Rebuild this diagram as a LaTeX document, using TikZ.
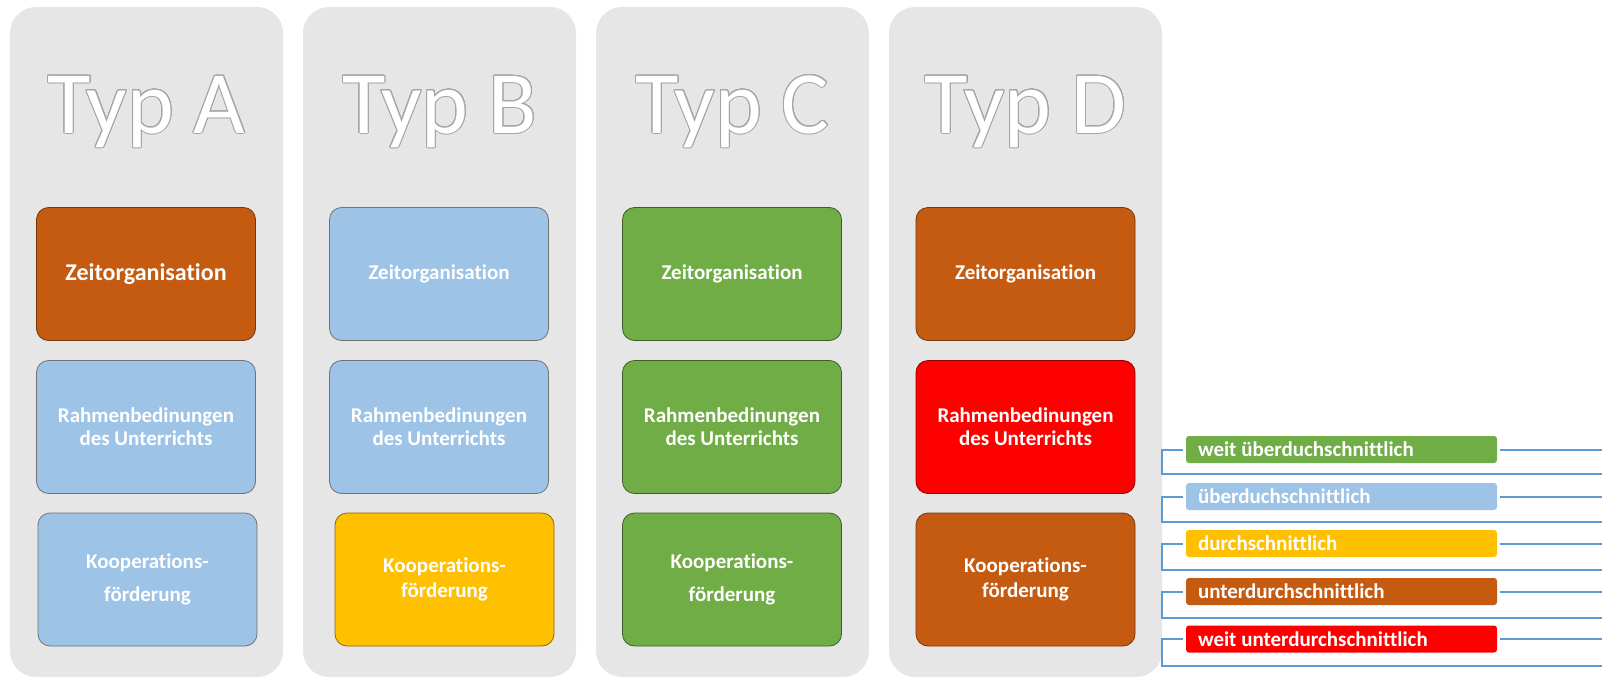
\documentclass[tikz,border=0pt]{standalone}
\usepackage{fontspec}
\setmainfont{Carlito}[Ligatures={NoCommon}]
\usepackage[copies]{contour}
\contourlength{1pt}
\contournumber{24}
\definecolor{panelgray}{HTML}{E6E6E6}
\definecolor{titlegray}{HTML}{A6A6A6}
\definecolor{cOrange}{HTML}{C55A11}
\definecolor{cBlue}{HTML}{9DC3E6}
\definecolor{cGreen}{HTML}{70AD47}
\definecolor{cYellow}{HTML}{FFC000}
\definecolor{cRed}{HTML}{FF0000}
\definecolor{lineblue}{HTML}{5B9BD5}
\tikzset{
  panel/.style={fill=panelgray, rounded corners=26pt, minimum width=273pt, minimum height=670pt, inner sep=0pt},
  title/.style={anchor=base, text=white, font=\fontsize{89}{100}\selectfont, inner sep=0pt},
  box/.style={rounded corners=12pt, minimum width=219pt, minimum height=133pt, text=white, align=center,
     font=\bfseries\fontsize{21}{23}\selectfont, line width=0.8pt, inner sep=0pt},
  kbox/.style={box, font=\bfseries\fontsize{21}{33}\selectfont},
  kboxn/.style={box, font=\bfseries\fontsize{21}{25}\selectfont},
  leg/.style={rounded corners=3pt, minimum width=311pt, minimum height=27pt, text width=287pt, align=flush left,
     inner xsep=12pt, inner ysep=0pt, text=white, font=\bfseries\fontsize{21}{23}\selectfont},
  legline/.style={draw=lineblue, line width=2pt}
}
\begin{document}
\begin{tikzpicture}[x=1pt,y=-1pt]
\useasboundingbox (0,0) rectangle (1602,677);
% panels
\node[panel] (pA) at (146.5,342) {};
\node[panel] (pB) at (439.5,342) {};
\node[panel] (pC) at (732.5,342) {};
\node[panel] (pD) at (1025.5,342) {};
% titles
\node[title] (tA) at (146.5,133) {\contour{titlegray}{Typ A}};
\node[title] (tB) at (439.5,133) {\contour{titlegray}{Typ B}};
\node[title] (tC) at (732.5,133) {\contour{titlegray}{Typ C}};
\node[title] (tD) at (1025.5,133) {\contour{titlegray}{Typ D}};
% panel A
\node[box, fill=cOrange, draw=cOrange!60!black, font=\bfseries\fontsize{24}{26}\selectfont] (a1) at (146,274) {Zeitorganisation};
\node[box, fill=cBlue, draw=black!55] (a2) at (146,427) {Rahmenbedinungen\\des Unterrichts};
\node[kbox, fill=cBlue, draw=black!55] (a3) at (147.5,579.5) {Kooperations-\\förderung};
% panel B
\node[box, fill=cBlue, draw=black!55] (b1) at (439,274) {Zeitorganisation};
\node[box, fill=cBlue, draw=black!55] (b2) at (439,427) {Rahmenbedinungen\\des Unterrichts};
\node[kboxn, fill=cYellow, draw=cYellow!55!black] (b3) at (444.5,579.5) {Kooperations-\\förderung};
% panel C
\node[box, fill=cGreen, draw=cGreen!55!black] (c1) at (732,274) {Zeitorganisation};
\node[box, fill=cGreen, draw=cGreen!55!black] (c2) at (732,427) {Rahmenbedinungen\\des Unterrichts};
\node[kbox, fill=cGreen, draw=cGreen!55!black] (c3) at (732,579.5) {Kooperations-\\förderung};
% panel D
\node[box, fill=cOrange, draw=cOrange!60!black] (d1) at (1025.5,274) {Zeitorganisation};
\node[box, fill=cRed, draw=cRed!55!black] (d2) at (1025.5,427) {Rahmenbedinungen\\des Unterrichts};
\node[kboxn, fill=cOrange, draw=cOrange!60!black] (d3) at (1025.5,579.5) {Kooperations-\\förderung};
% legend
\node[leg, fill=cGreen] (l1) at (1341.5,449.5) {weit überduchschnittlich};
\node[leg, fill=cBlue] (l2) at (1341.5,496.5) {überduchschnittlich};
\node[leg, fill=cYellow] (l3) at (1341.5,543.5) {durchschnittlich};
\node[leg, fill=cOrange] (l4) at (1341.5,591.5) {unterdurchschnittlich};
\node[leg, fill=cRed] (l5) at (1341.5,639) {weit unterdurchschnittlich};
\foreach \i/\yb in {1/474,2/522,3/570,4/618,5/666}{
  \coordinate (lb\i) at (1162,\yb);
  \coordinate (le\i) at (1602,\yb);
  \coordinate (lr\i) at (1602,0);
  \draw[legline] ([xshift=-3pt]l\i.west) -| (lb\i) -- (le\i);
  \draw[legline] ([xshift=3pt]l\i.east) -- (l\i.east -| lr\i);
}
\end{tikzpicture}
\end{document}
